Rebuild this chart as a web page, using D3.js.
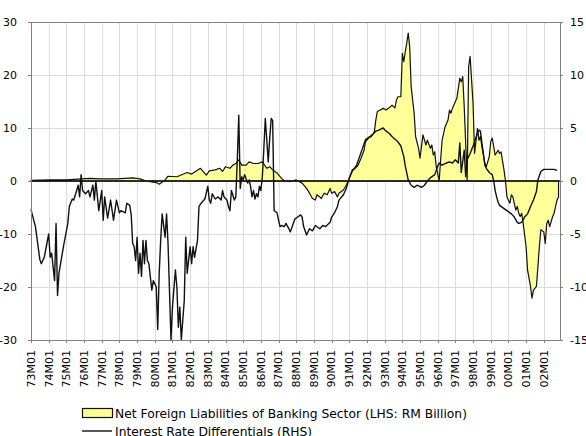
<!DOCTYPE html>
<html>
<head>
<meta charset="utf-8">
<script src="https://cdn.jsdelivr.net/npm/d3@7"></script>
<style>
body { margin: 0; background: #fff; }
svg { display: block; font-family: "DejaVu Sans", sans-serif; }
</style>
</head>
<body>
<div id="chart"></div>
<script>
'use strict';

/**** DATA ****/
// x axis tick labels (January of each year)
var tickLabels = ["73M01","74M01","75M01","76M01","77M01","78M01","79M01","80M01","81M01","82M01",
  "83M01","84M01","85M01","86M01","87M01","88M01","89M01","90M01","91M01","92M01",
  "93M01","94M01","95M01","96M01","97M01","98M01","99M01","00M01","01M01","02M01"];

var leftTicks = [-30, -20, -10, 0, 10, 20, 30];
var rightTicks = [-15, -10, -5, 0, 5, 10, 15];

// Net Foreign Liabilities of Banking Sector (LHS: RM Billion)
var nflMonths = ["73M01","74M02","75M01","76M05","76M12","77M11","78M10","79M03","79M07","80M02",
  "80M04","80M08","80M10","81M04","81M11","82M02","82M08","82M12","83M02","83M06",
  "83M09","83M11","84M01","84M04","84M06","84M08","84M10","84M12","85M03","85M05",
  "85M08","85M11","86M02","86M05","86M07","86M09","86M12","87M03","87M05","87M09",
  "88M01","88M05","88M08","88M10","88M12","89M02","89M03","89M05","89M06","89M08",
  "89M10","89M12","90M01","90M03","90M05","90M06","90M09","90M11","91M01","91M03",
  "91M05","91M07","91M09","91M11","91M12","92M02","92M04","92M06","92M07","92M08",
  "92M10","92M12","93M02","93M04","93M06","93M08","93M09","93M10","93M12","94M01",
  "94M02","94M03","94M04","94M05","94M06","94M07","94M09","94M10","94M12","95M01",
  "95M02","95M03","95M05","95M06","95M08","95M09","95M10","95M11","95M12","96M02",
  "96M03","96M04","96M06","96M08","96M09","96M10","96M11","97M01","97M02","97M04",
  "97M05","97M06","97M07","97M09","97M10","97M11","98M01","98M02","98M04","98M05",
  "98M06","98M07","98M09","98M10","98M12","99M01","99M02","99M03","99M04","99M06",
  "99M07","99M08","99M10","99M11","99M12","00M02","00M03","00M04","00M06","00M07",
  "00M08","00M09","00M10","00M11","01M01","01M02","01M04","01M05","01M06","01M08",
  "01M09","01M10","01M11","02M01","02M02","02M03","02M04","02M05","02M07","02M08",
  "02M09","02M10","02M11"];
var nflValues = [0.1, 0.2, 0.2, 0.5, 0.4, 0.4, 0.6, 0.4, 0.0, -0.3,
  -0.6, 0.2, 0.9, 0.8, 1.6, 1.3, 2.4, 1.1, 1.9, 2.1,
  2.4, 1.8, 2.7, 2.4, 3.0, 3.3, 4.0, 3.0, 3.0, 3.6,
  3.3, 3.3, 3.6, 2.4, 2.7, 2.1, 1.5, 0.5, 0.0, -0.1,
  0.2, -0.4, -1.4, -2.3, -3.3, -3.6, -2.6, -3.0, -3.3, -2.3,
  -2.6, -1.4, -2.3, -2.0, -3.0, -2.3, -1.7, -0.8, 0.5, 2.1,
  2.4, 3.0, 4.3, 5.8, 7.4, 8.1, 8.4, 9.3, 11.5, 13.1,
  13.4, 13.7, 13.4, 13.8, 14.3, 13.8, 15.3, 15.9, 15.9, 24.1,
  22.5, 24.4, 26.0, 27.9, 25.3, 17.8, 12.8, 8.4, 6.2, 4.3,
  6.5, 8.7, 6.8, 7.7, 6.2, 6.8, 4.9, 5.5, 2.7, 0.0,
  4.0, 7.7, 10.2, 11.5, 13.4, 12.8, 13.7, 15.0, 15.6, 19.4,
  18.7, 19.7, 14.0, 0.2, 21.6, 23.5, 14.7, 5.2, 9.9, 7.7,
  8.4, 6.5, 3.3, 2.7, 4.6, 7.4, 8.1, 6.5, 4.9, 5.8,
  5.2, 5.5, 2.1, 0.0, -3.0, -4.2, -2.6, -3.0, -5.5, -4.8,
  -6.1, -6.7, -6.1, -8.0, -12.4, -16.8, -19.9, -22.1, -20.6, -19.9,
  -16.2, -12.4, -9.2, -9.6, -11.8, -8.0, -7.4, -8.6, -6.7, -6.1,
  -4.8, -3.6, -3.0];

// Interest Rate Differentials (RHS)
var irdMonths = ["73M01","73M04","73M07","73M08","73M10","74M01","74M02","74M03","74M05","74M06",
  "74M07","74M08","74M11","75M02","75M03","75M05","75M06","75M08","75M09","75M10",
  "75M11","75M12","76M02","76M04","76M05","76M07","76M08","76M09","76M11","77M01",
  "77M02","77M03","77M05","77M07","77M09","77M11","78M01","78M02","78M05","78M06",
  "78M08","78M09","78M10","78M11","78M12","79M01","79M02","79M03","79M04","79M05",
  "79M06","79M07","79M08","79M09","79M11","79M12","80M02","80M03","80M04","80M05",
  "80M06","80M08","80M09","80M10","80M12","81M01","81M03","81M04","81M05","81M06",
  "81M07","81M09","81M10","81M11","82M01","82M02","82M03","82M04","82M06","82M07",
  "82M09","82M11","83M01","83M02","83M03","83M04","83M06","83M08","83M10","83M11",
  "83M12","84M02","84M03","84M04","84M05","84M07","84M08","84M09","84M10","84M11",
  "84M12","85M01","85M02","85M04","85M05","85M06","85M07","85M08","85M09","85M10",
  "85M11","85M12","86M01","86M02","86M03","86M04","86M05","86M06","86M07","86M08",
  "86M09","86M10","86M11","86M12","87M01","87M02","87M03","87M05","87M06","87M08",
  "87M09","87M11","87M12","88M02","88M04","88M05","88M06","88M08","88M10","88M12",
  "89M02","89M05","89M07","89M09","89M12","90M01","90M03","90M05","90M06","90M09",
  "90M11","91M01","91M03","91M06","91M08","91M10","91M12","92M03","92M05","92M07",
  "92M09","92M12","93M02","93M04","93M06","93M10","93M12","94M02","94M03","94M05",
  "94M07","94M09","94M11","95M02","95M04","95M06","95M08","95M11","96M01","96M02",
  "96M04","96M07","96M09","96M11","97M01","97M03","97M04","97M05","97M07","97M08",
  "97M09","97M11","98M01","98M04","98M05","98M06","98M07","98M08","98M09","98M10",
  "98M12","99M02","99M03","99M04","99M05","99M06","99M07","99M08","99M10","99M12",
  "00M03","00M05","00M07","00M08","00M10","00M12","01M02","01M04","01M06","01M08",
  "01M09","01M11","02M01","02M04","02M08","02M10"];
var irdValues = [-2.7, -4.3, -7.4, -7.8, -7.2, -5.0, -7.2, -6.8, -9.4, -4.0,
  -10.8, -8.7, -6.2, -4.0, -2.4, -1.7, -1.8, -0.9, -0.4, -1.5,
  0.6, -0.9, -1.2, -0.9, -1.5, -0.4, -1.8, 0.0, -2.8, -0.9,
  -3.7, -1.5, -3.5, -1.8, -3.7, -1.8, -3.0, -2.8, -3.0, -2.1,
  -2.3, -3.2, -5.9, -6.2, -7.5, -5.3, -8.7, -6.8, -9.0, -5.6,
  -7.8, -5.6, -7.5, -7.8, -10.3, -9.4, -10.0, -14.0, -8.7, -5.6,
  -3.1, -5.3, -3.1, -5.9, -15.0, -11.9, -8.4, -10.0, -13.8, -11.9,
  -15.0, -11.3, -5.3, -8.7, -6.2, -7.8, -6.2, -7.2, -5.6, -2.4,
  -2.0, -1.7, -0.5, -1.8, -2.1, -1.2, -1.7, -1.5, -1.8, -0.9,
  -1.5, -1.8, -2.4, -2.8, -0.9, -1.8, -1.5, 2.0, 6.2, -0.7,
  0.4, 0.1, 0.6, -0.2, 0.1, -0.5, -1.5, -0.9, -1.7, -1.2,
  -1.5, -0.5, -0.9, 0.4, 3.0, 5.9, 3.9, 1.8, 4.0, 5.9,
  5.7, -2.8, -2.9, -3.0, -3.7, -4.3, -4.2, -4.3, -4.0, -4.5,
  -4.8, -4.0, -3.6, -3.4, -3.2, -3.4, -4.3, -5.1, -4.5, -4.7,
  -4.2, -4.5, -4.2, -4.3, -3.9, -3.4, -3.0, -2.4, -1.8, -1.3,
  -0.7, 0.3, 0.9, 1.5, 2.3, 3.1, 3.9, 4.2, 4.4, 4.7,
  4.8, 5.0, 4.7, 4.5, 4.2, 3.7, 3.3, 2.3, 1.4, 0.1,
  -0.4, -0.6, -0.4, -0.6, -0.4, 0.0, 0.3, 0.6, 1.4, 1.7,
  1.5, 1.7, 1.8, 1.7, 2.0, 1.7, 3.6, 0.8, 2.9, 0.4,
  2.0, 2.6, 3.3, 4.5, 4.8, 4.7, 3.6, 2.6, 1.5, 1.2,
  0.8, 0.6, 0.0, -0.9, -1.5, -2.0, -2.3, -2.4, -2.6, -2.8,
  -3.1, -3.4, -3.9, -4.0, -3.9, -3.4, -3.1, -2.4, -1.8, -1.0,
  0.1, 0.9, 1.1, 1.1, 1.1, 1.0];

var legendLabels = ["Net Foreign Liabilities of Banking Sector (LHS: RM Billion)",
  "Interest Rate Differentials (RHS)"];

/**** HELPERS ****/
// "84M09" -> months since 1973-01
var monthIndex = function(s) {
  var yy = +s.slice(0, 2);
  var year = yy < 50 ? 2000 + yy : 1900 + yy;
  return (year - 1973) * 12 + (+s.slice(3)) - 1;
};

var nflData = nflMonths.map(function(m, i) { return { m: monthIndex(m), v: nflValues[i] }; });
var irdData = irdMonths.map(function(m, i) { return { m: monthIndex(m), v: irdValues[i] }; });

/**** LAYOUT ****/
var width = 586, height = 436;
var plotLeft = 31, plotRight = 560, plotTop = 22, plotBottom = 340;

var svg = d3.select('#chart').append('svg')
  .attr('width', width)
  .attr('height', height);

var x = d3.scaleLinear().domain([0, 359]).range([plotLeft, plotRight]);
var yL = d3.scaleLinear().domain([-30, 30]).range([plotBottom, plotTop]);
var yR = d3.scaleLinear().domain([-15, 15]).range([plotBottom, plotTop]);

var snap = function(v) { return Math.round(v) + 0.5; };

// grid
var grid = svg.append('g').attr('stroke', '#dcdcdc').attr('stroke-width', 1);
grid.selectAll('line.v')
  .data(tickLabels)
  .enter().append('line')
  .attr('class', 'v')
  .attr('x1', function(d) { return snap(x(monthIndex(d))); })
  .attr('x2', function(d) { return snap(x(monthIndex(d))); })
  .attr('y1', plotTop)
  .attr('y2', plotBottom);
grid.selectAll('line.h')
  .data(leftTicks)
  .enter().append('line')
  .attr('class', 'h')
  .attr('x1', plotLeft)
  .attr('x2', plotRight)
  .attr('y1', function(d) { return snap(yL(d)); })
  .attr('y2', function(d) { return snap(yL(d)); });

// area for net foreign liabilities
var area = d3.area()
  .x(function(d) { return x(d.m); })
  .y0(yL(0))
  .y1(function(d) { return yL(d.v); });

svg.append('path')
  .datum(nflData)
  .attr('d', area)
  .attr('fill', '#ffff99')
  .attr('stroke', '#111')
  .attr('stroke-width', 1.2)
  .attr('stroke-linejoin', 'round');

// zero line
svg.append('line')
  .attr('x1', plotLeft).attr('x2', plotRight)
  .attr('y1', yL(0)).attr('y2', yL(0))
  .attr('stroke', '#111')
  .attr('stroke-width', 1.5);

// interest rate differential line
var line = d3.line()
  .x(function(d) { return x(d.m); })
  .y(function(d) { return yR(d.v); });

svg.append('path')
  .datum(irdData)
  .attr('d', line)
  .attr('fill', 'none')
  .attr('stroke', '#111')
  .attr('stroke-width', 1.4)
  .attr('stroke-linejoin', 'round');

// frame
svg.append('rect')
  .attr('x', plotLeft + 0.5).attr('y', plotTop + 0.5)
  .attr('width', plotRight - plotLeft).attr('height', plotBottom - plotTop)
  .attr('fill', 'none')
  .attr('stroke', '#808080')
  .attr('stroke-width', 1);

// left axis
var leftAxis = svg.append('g').attr('font-size', 11).attr('fill', '#000');
leftAxis.selectAll('line')
  .data(leftTicks)
  .enter().append('line')
  .attr('x1', plotLeft - 3).attr('x2', plotLeft)
  .attr('y1', function(d) { return snap(yL(d)); })
  .attr('y2', function(d) { return snap(yL(d)); })
  .attr('stroke', '#808080');
leftAxis.selectAll('text')
  .data(leftTicks)
  .enter().append('text')
  .attr('x', 17)
  .attr('y', function(d) { return yL(d); })
  .attr('dy', '0.35em')
  .attr('text-anchor', 'end')
  .text(function(d) { return d; });

// right axis (labels run off the page edge, as in the source)
var rightAxis = svg.append('g').attr('font-size', 11).attr('fill', '#000');
rightAxis.selectAll('line')
  .data(rightTicks)
  .enter().append('line')
  .attr('x1', plotRight).attr('x2', plotRight + 3)
  .attr('y1', function(d) { return snap(yR(d)); })
  .attr('y2', function(d) { return snap(yR(d)); })
  .attr('stroke', '#808080');
rightAxis.selectAll('text')
  .data(rightTicks)
  .enter().append('text')
  .attr('x', 570)
  .attr('y', function(d) { return yR(d); })
  .attr('dy', '0.35em')
  .attr('text-anchor', 'start')
  .text(function(d) { return d; });

// bottom axis, rotated labels
var bottomAxis = svg.append('g').attr('font-size', 11).attr('fill', '#000');
bottomAxis.selectAll('line')
  .data(tickLabels)
  .enter().append('line')
  .attr('x1', function(d) { return snap(x(monthIndex(d))); })
  .attr('x2', function(d) { return snap(x(monthIndex(d))); })
  .attr('y1', plotBottom).attr('y2', plotBottom + 3)
  .attr('stroke', '#808080');
bottomAxis.selectAll('text')
  .data(tickLabels)
  .enter().append('text')
  .attr('transform', function(d) {
    return 'translate(' + x(monthIndex(d)) + ',' + (plotBottom + 10) + ')rotate(-90)';
  })
  .attr('dy', '0.35em')
  .attr('text-anchor', 'end')
  .text(function(d) { return d; });

// legend
var legend = svg.append('g').attr('font-size', 12.3).attr('fill', '#000');
legend.append('rect')
  .attr('x', 82.5).attr('y', 408.5)
  .attr('width', 30).attr('height', 9)
  .attr('fill', '#ffff99')
  .attr('stroke', '#111')
  .attr('stroke-width', 1.2);
legend.append('text')
  .attr('x', 115).attr('y', 417.5)
  .text(legendLabels[0]);
legend.append('line')
  .attr('x1', 82).attr('x2', 112)
  .attr('y1', 431).attr('y2', 431)
  .attr('stroke', '#111')
  .attr('stroke-width', 1.4);
legend.append('text')
  .attr('x', 115).attr('y', 435.5)
  .text(legendLabels[1]);
</script>
</body>
</html>
